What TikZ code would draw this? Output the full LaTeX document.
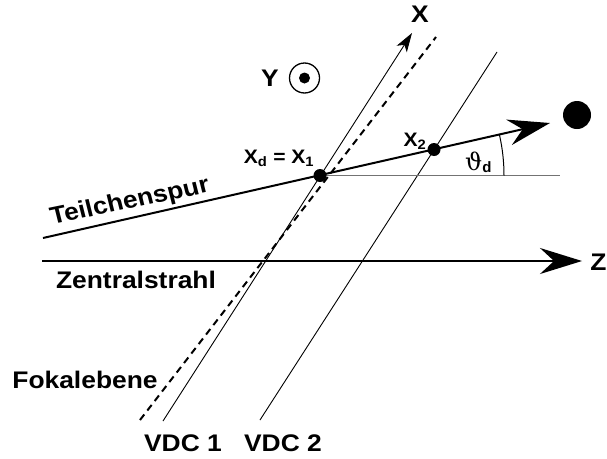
\documentclass[tikz,border=0pt]{standalone}
\usepackage{fontspec}
\setmainfont{Liberation Sans}
\newfontfamily\thfont{DejaVu Serif}
\usetikzlibrary{arrows.meta,calc}
\definecolor{linegray}{gray}{0.45}
\begin{document}
\begin{tikzpicture}[x=1pt,y=-1pt,
  biglab/.style={font=\fontsize{24}{28}\selectfont\bfseries, inner sep=0pt, xscale=1.1},
  smalllab/.style={font=\fontsize{19.5}{23}\selectfont\bfseries, inner sep=0pt, xscale=1.08},
  thinline/.style={line width=0.9pt},
  thickline/.style={line width=2pt},
  dashline/.style={line width=2pt, dash pattern=on 7pt off 5pt},
  bigtip/.style={-{Stealth[length=42pt,width=26pt,inset=14pt]}},
  smalltip/.style={-{Stealth[length=19pt,width=12pt,inset=5pt]}}
]
\useasboundingbox (0,0) rectangle (607,458);
% coordinates
\coordinate (v1b) at (163,421);
\coordinate (v1t) at (412,33);
\coordinate (fb) at (140,420);
\coordinate (ft) at (436,37);
\coordinate (v2b) at (260,420);
\coordinate (v2t) at (497,52);
\coordinate (ts) at (43,238);
\coordinate (tt) at (550,123);
\coordinate (x1) at (320,175.5);
\coordinate (x2) at (434,149.5);
\coordinate (he) at (560,175.5);
\coordinate (zs) at (42,261);
\coordinate (zt) at (582,261);
% lines
\draw[thinline, smalltip] (v1b) -- (v1t);
\draw[dashline] (fb) -- (ft);
\draw[thinline] (v2b) -- (v2t);
\draw[line width=1.3pt, linegray] (x1) -- (he);
\draw[thickline, bigtip] (ts) -- (tt);
\draw[thickline, bigtip] (zs) -- (zt);
\draw[line width=1pt] ($(x1)+(184,0)$) arc[start angle=0, end angle=-12.7, radius=184];
% points
\fill (x1) circle[radius=6.5];
\fill (x2) circle[radius=6.5];
\node[circle, fill, minimum size=28pt, inner sep=0pt] (ball) at (577,115) {};
\node[circle, draw, line width=1.3pt, minimum size=30pt, inner sep=0pt] (ycirc) at (304.5,78) {};
\fill (ycirc.center) circle[radius=5.5];
% labels
\node[biglab] (xlab) at (420,14) {X};
\node[biglab] (ylab) at (270,78) {Y};
\node[biglab] (zlab) at (598.5,262) {Z};
\node[smalllab] (xdlab) at (279,158) {X$_{\mathbf{d}}$ = X$_{\mathbf 1}$};
\node[smalllab] (x2lab) at (415,141) {X$_{\mathbf 2}$};
\node[inner sep=0pt, anchor=base west] (thlab) at (465,170)
  {{\thfont\fontsize{24}{28}\selectfont ϑ}\raisebox{-2pt}{\fontsize{15}{17}\selectfont\bfseries d}};
\node[biglab, rotate=12.8] (tlab) at (130,202) {Teilchenspur};
\node[biglab] (zslab) at (136,280) {Zentralstrahl};
\node[biglab] (flab) at (85,380) {Fokalebene};
\node[biglab] (v1lab) at (183,443) {VDC 1};
\node[biglab] (v2lab) at (283,443) {VDC 2};
\end{tikzpicture}
\end{document}
